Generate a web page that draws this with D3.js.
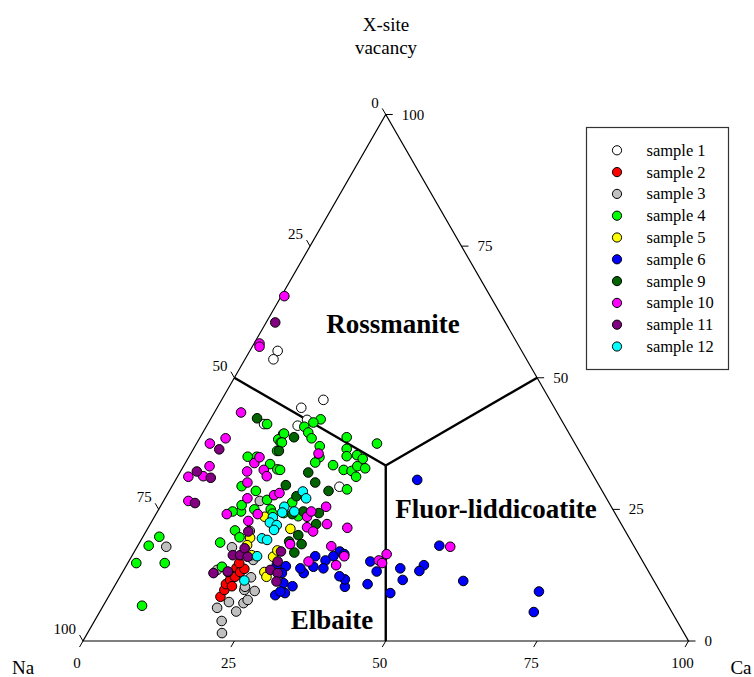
<!DOCTYPE html>
<html>
<head>
<meta charset="utf-8">
<script src="https://cdn.jsdelivr.net/npm/d3@7"></script>
<style>
  body { margin: 0; background: #fff; }
  svg { display: block; font-family: "Liberation Serif", "Times New Roman", serif; }
</style>
</head>
<body>
<div id="chart"></div>
<script>
// each point is [Ca, X-site vacancy] in %, Na = 100 - Ca - vacancy
var sample1 = [[4.6,55.1],[4.7,53.5],[16.8,45.8],[13.9,44.3],[16.0,42.0],[15.0,40.9],[9.3,41.2],[27.7,29.3]];
var sample2 = [[18.5,8.4],[18.5,9.7],[18.2,10.8],[18.5,11.6],[19.0,12.2],[18.4,13.9],[19.4,13.1],[19.8,13.7],[18.4,14.8],[19.4,10.4],[17.4,13.1]];
var sample3 = [[4.8,17.9],[19.0,6.3],[21.0,3.8],[22.2,1.5],[20.4,7.4],[22.5,5.6],[22.9,7.2],[23.3,7.8],[23.6,9.5],[21.8,9.7],[21.6,10.3],[21.7,12.1],[15.7,17.8],[15.4,13.5],[15.9,26.6],[17.1,20.9],[20.4,15.4]];
var sample4 = [[6.4,6.7],[1.4,14.8],[1.8,18.1],[2.7,19.8],[6.1,14.8],[13.3,18.7],[14.6,21.0],[16.0,19.7],[15.9,14.1],[11.5,29.4],[14.3,28.5],[17.0,26.8],[15.8,25.0],[13.8,24.6],[13.3,25.8],[18.5,25.0],[9.8,41.2],[13.4,39.3],[13.1,38.3],[13.8,37.7],[14.0,36.1],[14.1,33.6],[15.8,32.6],[11.2,35.0],[9.7,35.0],[18.2,42.1],[17.3,41.5],[16.2,40.7],[17.4,39.6],[18.5,38.5],[13.5,39.4],[14.0,37.7],[20.6,37.0],[21.6,34.9],[21.4,33.9],[24.2,38.7],[29.8,37.5],[25.3,36.5],[26.0,35.1],[24.6,33.4],[26.8,32.5],[28.2,32.3],[27.6,35.3],[28.9,34.6],[28.7,33.2],[30.2,32.8],[29.5,31.2],[29.2,28.8],[16.3,32.5],[21.4,26.3],[21.0,24.3],[23.7,23.7],[19.2,24.2],[12.4,24.6]];
var sample5 = [[18.2,23.6],[17.8,19.6],[23.4,13.1],[24.2,12.2],[23.4,16.0],[23.5,17.2],[23.6,21.3],[19.7,16.3],[18.0,18.2]];
var sample6 = [[39.9,30.6],[49.8,18.1],[57.1,11.4],[49.1,14.4],[48.9,13.3],[45.5,13.8],[47.0,11.6],[46.2,9.1],[41.9,13.2],[39.9,15.1],[41.6,10.8],[38.1,10.3],[37.4,11.7],[36.2,12.3],[33.9,17.0],[33.3,16.1],[32.4,15.3],[32.8,13.8],[30.3,16.1],[31.0,14.1],[30.0,12.9],[29.0,13.8],[29.4,10.4],[28.8,9.1],[27.6,11.0],[26.4,14.2],[24.8,14.4],[26.4,12.9],[27.4,8.7],[27.9,9.4],[70.6,9.4],[71.7,5.5],[34.9,16.5]];
var sample9 = [[7.6,42.3],[14.3,36.1],[15.5,38.7],[21.2,32.0],[18.7,29.6],[23.3,30.1],[26.3,28.5],[21.5,27.5],[22.5,24.1],[26.8,24.3],[27.4,22.2],[25.5,20.1],[26.9,18.4],[24.6,18.9],[26.5,16.8],[24.1,24.6]];
var sample10 = [[0.5,65.5],[0.9,56.5],[1.2,55.9],[4.4,43.4],[4.3,38.5],[2.2,37.5],[11.4,33.8],[11.7,34.9],[11.0,32.2],[13.6,32.5],[14.7,31.3],[4.3,33.2],[1.8,31.2],[4.1,26.6],[4.2,31.3],[12.1,30.1],[13.6,27.1],[11.7,24.1],[15.9,22.8],[16.8,24.1],[17.7,27.7],[18.4,28.1],[21.1,35.6],[27.4,25.5],[25.2,23.6],[25.4,24.6],[26.2,21.6],[27.6,20.8],[29.2,22.2],[32.9,21.5],[25.0,18.4],[32.0,18.0],[29.7,15.1],[34.6,14.4],[35.1,16.1],[41.2,15.3],[41.9,16.5],[42.0,14.8],[51.7,17.9]];
var sample11 = [[1.5,60.5],[4.3,36.4],[2.7,32.2],[5.6,31.0],[5.4,26.2],[16.9,20.8],[15.1,12.9],[17.3,13.2],[16.6,16.3],[17.8,16.3],[17.9,17.6],[19.2,16.0],[24.2,13.5],[25.7,12.9],[26.3,11.3],[24.2,17.0],[24.6,15.1]];
var sample12 = [[22.1,28.4],[23.3,27.1],[20.5,25.5],[20.7,24.4],[22.6,24.6],[19.6,23.5],[19.6,22.5],[21.0,22.0],[21.0,21.1],[19.8,19.5],[20.8,19.2],[20.7,16.1],[20.9,11.5]];

var sampleNames = ["sample 1","sample 2","sample 3","sample 4","sample 5","sample 6","sample 9","sample 10","sample 11","sample 12"];
var sampleData = [sample1, sample2, sample3, sample4, sample5, sample6, sample9, sample10, sample11, sample12];
var sampleColors = ["#ffffff","#ff0000","#c0c0c0","#00ff00","#ffff00","#0000ff","#006400","#ff00ff","#800080","#00ffff"];
var tickValues = [0, 25, 50, 75, 100];

var width = 754, height = 677;
var svg = d3.select("#chart").append("svg").attr("width", width).attr("height", height);

// base axis carries Ca + vac/2, vertical carries vacancy
var xs = d3.scaleLinear().domain([0, 100]).range([83, 688.5]);
var ys = d3.scaleLinear().domain([0, 100]).range([641, 114.5]);
function px(ca, vac) { return xs(ca + vac / 2); }
function py(ca, vac) { return ys(vac); }
var line = d3.line().x(function(d) { return px(d[0], d[1]); }).y(function(d) { return py(d[0], d[1]); });

// outer triangle
svg.append("path").attr("d", line([[0,0],[100,0],[0,100]]) + "Z")
  .attr("fill", "none").attr("stroke", "#000").attr("stroke-width", 1.2);

// field boundaries
var c = 100 / 3;
[[0,50],[50,50],[50,0]].forEach(function(p) {
  svg.append("path").attr("d", line([[c,c], p]))
    .attr("fill", "none").attr("stroke", "#000").attr("stroke-width", 2.4);
});

var tl = 7;
var tickG = svg.append("g").attr("stroke", "#000").attr("stroke-width", 1);
var labG = svg.append("g").attr("font-size", "15px").attr("fill", "#000");
tickValues.forEach(function(v) {
  // bottom: Ca
  var bx = px(v, 0), by = py(v, 0);
  tickG.append("line").attr("x1", bx).attr("y1", by).attr("x2", bx - tl * 0.5).attr("y2", by + tl * 0.866);
  labG.append("text").attr("x", bx - 6).attr("y", by + 27).attr("text-anchor", "middle").text(v);
  // left: Na
  var lx = px(0, 100 - v), ly = py(0, 100 - v);
  tickG.append("line").attr("x1", lx).attr("y1", ly).attr("x2", lx - tl * 0.5).attr("y2", ly - tl * 0.866);
  labG.append("text").attr("x", lx - 7).attr("y", ly - 7).attr("text-anchor", "end").text(v);
  // right: vacancy
  var rx = px(100 - v, v), ry = py(100 - v, v);
  tickG.append("line").attr("x1", rx).attr("y1", ry).attr("x2", rx + tl).attr("y2", ry);
  labG.append("text").attr("x", rx + 16).attr("y", ry + 5).text(v);
});

// corner labels
svg.append("text").attr("x", 386).attr("y", 31).attr("text-anchor", "middle").attr("font-size", "19px").text("X-site");
svg.append("text").attr("x", 386).attr("y", 54).attr("text-anchor", "middle").attr("font-size", "19px").text("vacancy");
svg.append("text").attr("x", 23).attr("y", 674).attr("text-anchor", "middle").attr("font-size", "19px").text("Na");
svg.append("text").attr("x", 741).attr("y", 674).attr("text-anchor", "middle").attr("font-size", "19px").text("Ca");

// field names
var fields = [["Rossmanite", 393, 333], ["Fluor-liddicoatite", 496, 518], ["Elbaite", 332, 629]];
fields.forEach(function(f) {
  svg.append("text").attr("x", f[1]).attr("y", f[2]).attr("text-anchor", "middle")
    .attr("font-size", "27px").attr("font-weight", "bold").text(f[0]);
});

// points
sampleData.forEach(function(data, i) {
  svg.append("g").selectAll("circle").data(data).enter().append("circle")
    .attr("cx", function(d) { return px(d[0], d[1]); })
    .attr("cy", function(d) { return py(d[0], d[1]); })
    .attr("r", 4.8)
    .attr("fill", sampleColors[i])
    .attr("stroke", "#000").attr("stroke-width", 1);
});

// legend
var legend = svg.append("g");
legend.append("rect").attr("x", 586.5).attr("y", 127.5).attr("width", 142).attr("height", 242)
  .attr("fill", "#fff").attr("stroke", "#333").attr("stroke-width", 1.2);
sampleNames.forEach(function(name, i) {
  var y = 150.3 + i * 21.8;
  legend.append("circle").attr("cx", 617).attr("cy", y).attr("r", 4.6)
    .attr("fill", sampleColors[i]).attr("stroke", "#000").attr("stroke-width", 1);
  legend.append("text").attr("x", 646.5).attr("y", y + 5.5).attr("font-size", "16.5px").text(name);
});
</script>
</body>
</html>
